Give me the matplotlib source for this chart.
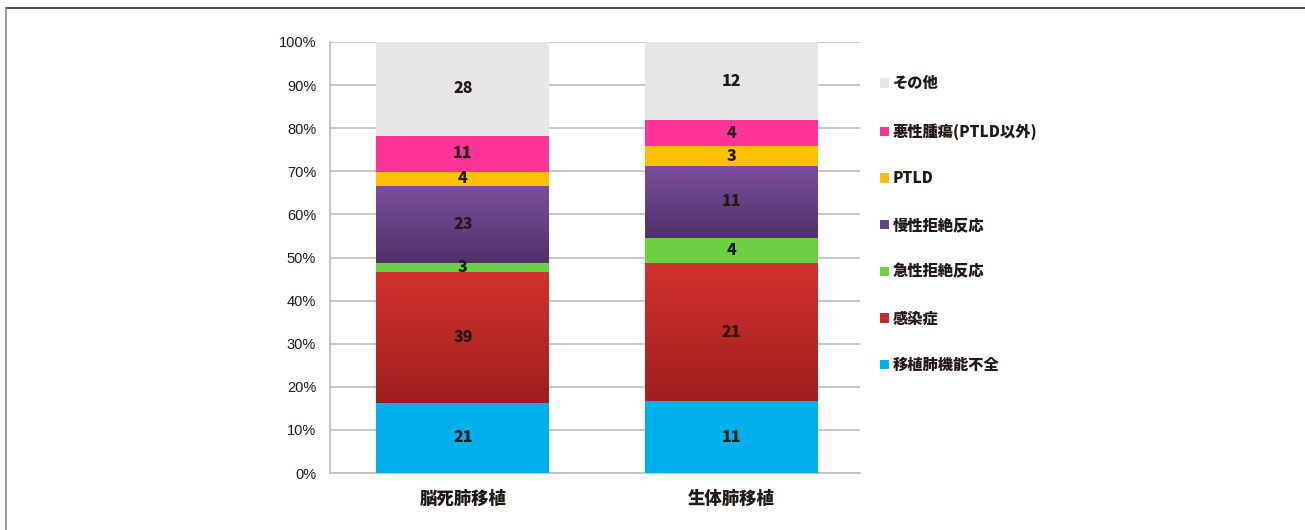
import matplotlib
matplotlib.use('Agg')
import matplotlib.pyplot as plt
import numpy as np
from matplotlib.lines import Line2D
from matplotlib.colors import LinearSegmentedColormap

plt.rcParams['font.family'] = ['Noto Sans CJK JP', 'DejaVu Sans']

categories = ['脳死肺移植', '生体肺移植']
causes = ['移植肺機能不全', '感染症', '急性拒絶反応', '慢性拒絶反応', 'PTLD', '悪性腫瘍(PTLD以外)', 'その他']
counts_brain_dead = [21, 39, 3, 23, 4, 11, 28]
counts_living = [11, 21, 4, 11, 3, 4, 12]
colors = ['#00B0EE', '#C42A27', '#6CCF44', '#67437F', '#FFC000', '#FF3399', '#E6E6E6']
# top/bottom colours for the segments that have a vertical gradient
gradients = {1: ('#D3312E', '#9E1F1F'), 3: ('#7B4F9C', '#4F3169')}

counts = np.array([counts_brain_dead, counts_living], dtype=float)
shares = counts / counts.sum(axis=1, keepdims=True) * 100

fig = plt.figure(figsize=(13.05, 5.30), dpi=100)
ax = fig.add_axes([0.2529, 0.1075, 0.659 - 0.2529, 0.9208 - 0.1075])

x = np.arange(len(categories))
bottom = np.zeros(len(categories))
for i, cause in enumerate(causes):
    bars = ax.bar(x, shares[:, i], bottom=bottom, width=0.644, color=colors[i],
                  label=cause, zorder=3)
    if i in gradients:
        cmap = LinearSegmentedColormap.from_list('g', [gradients[i][1], gradients[i][0]])
        for b in bars:
            bx, by = b.get_x(), b.get_y()
            ax.imshow(np.linspace(0, 1, 100).reshape(-1, 1), cmap=cmap, aspect='auto',
                      origin='lower', extent=(bx, bx + b.get_width(), by, by + b.get_height()),
                      zorder=3.5)
    for j, b in enumerate(bars):
        ax.text(b.get_x() + b.get_width() / 2, b.get_y() + b.get_height() / 2,
                str(int(counts[j, i])), ha='center', va='center', fontsize=11.5,
                fontweight='heavy', color='#231815', zorder=5)
    bottom += shares[:, i]

ax.set_xlim(-0.495, 1.479)
ax.set_ylim(0, 100)
ax.set_yticks(np.arange(0, 101, 10))
ax.set_yticklabels([f'{v}%' for v in range(0, 101, 10)], fontsize=10.5,
                   color='#231815', family=['Liberation Sans', 'DejaVu Sans'])
ax.set_xticks(x)
ax.set_xticklabels(categories, fontsize=12.5, fontweight='heavy', color='#231815')
ax.tick_params(axis='both', length=0)
ax.tick_params(axis='y', pad=10)
ax.tick_params(axis='x', pad=12)
ax.grid(axis='y', color='#BEBEBE', linewidth=1.2, zorder=0)
for s in ['top', 'right']:
    ax.spines[s].set_visible(False)
ax.spines['left'].set_color('#BEBEBE')
ax.spines['bottom'].set_color('#BEBEBE')
ax.spines['left'].set_linewidth(1.2)
ax.spines['bottom'].set_linewidth(1.2)

handles, labels = ax.get_legend_handles_labels()
leg = ax.legend(handles[::-1], labels[::-1], loc='upper left', bbox_to_anchor=(1.012, 0.952),
                frameon=False, labelspacing=2.07, handlelength=0.55, handleheight=0.55,
                handletextpad=0.25, prop={'size': 11, 'weight': 'heavy'})
for t in leg.get_texts():
    t.set_color('#231815')

# outer frame lines (top and left)
fig.add_artist(Line2D([6 / 1305, 1], [1 - 8 / 530, 1 - 8 / 530], color='#3a3330', linewidth=1.2))
fig.add_artist(Line2D([6 / 1305, 6 / 1305], [0, 1 - 8 / 530], color='#8a8580', linewidth=1.2))

fig.savefig('out.png', dpi=100)
